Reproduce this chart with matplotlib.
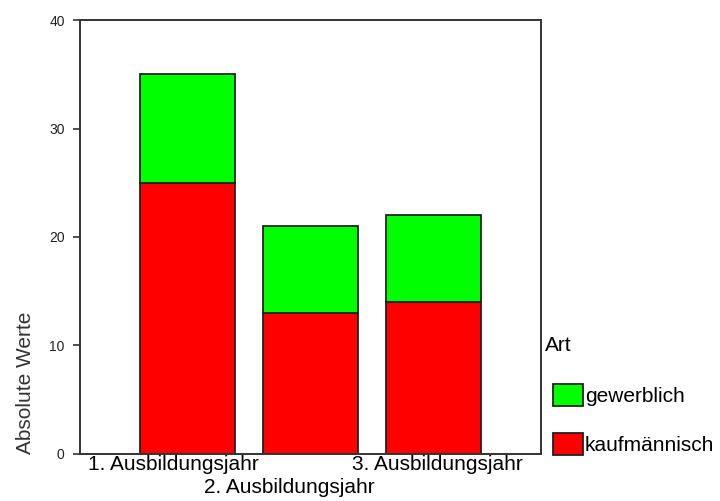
import numpy as np
import matplotlib.pyplot as plt
from matplotlib.transforms import ScaledTranslation

plt.rcParams["font.family"] = ["Liberation Sans", "DejaVu Sans"]

# ── Data ──────────────────────────────────────────────────────────────────────
years = ["1. Ausbildungsjahr", "2. Ausbildungsjahr", "3. Ausbildungsjahr"]
kaufmaennisch = [25, 13, 14]
gewerblich = [10, 8, 8]

RED = "#FF0000"
GREEN = "#00FF00"
EDGE = "#222222"


def main():
    fig = plt.figure(figsize=(7.2, 5.01), dpi=100)
    ax = fig.add_axes([0.111, 0.094, 0.640, 0.866])

    x = np.arange(len(years))
    width = 0.77
    b1 = ax.bar(x, kaufmaennisch, width, color=RED, edgecolor=EDGE, linewidth=1.3)
    b2 = ax.bar(x, gewerblich, width, bottom=kaufmaennisch, color=GREEN,
                edgecolor=EDGE, linewidth=1.3)

    ax.set_xlim(-0.874, 2.874)
    ax.set_ylim(0, 40)
    ax.set_yticks([0, 10, 20, 30, 40])
    ax.tick_params(axis="y", labelsize=10, length=5, width=1.2, color="#333333",
                   pad=6, labelcolor="#222222")

    # Staggered category labels (middle one sits a row lower)
    ax.set_xticks(x)
    ax.set_xticklabels(years, fontsize=15)
    ax.tick_params(axis="x", length=0, pad=1)
    shifts = [-14, -21, 4]  # px
    for lbl, dx in zip(ax.get_xticklabels(), shifts):
        lbl.set_transform(lbl.get_transform()
                          + ScaledTranslation(dx / 100, 0, fig.dpi_scale_trans))
    ax.get_xticklabels()[1].set_y(-0.052)

    for spine in ax.spines.values():
        spine.set_color("#333333")
        spine.set_linewidth(1.4)

    ax.set_ylabel("Absolute Werte", fontsize=15, color="#333333")
    ax.yaxis.set_label_coords(-0.097, 0.164)

    fig.text(0.757, 0.311, "Art", fontsize=15, va="center", ha="left")
    ax.legend([b2, b1], ["gewerblich", "kaufmännisch"],
              loc="upper left", bbox_to_anchor=(1.026, 0.160),
              frameon=False, fontsize=15,
              handlelength=1.45, handleheight=1.2, handletextpad=0.1,
              labelspacing=1.3, borderaxespad=0.0, borderpad=0.0)

    fig.savefig("out.png", dpi=100, facecolor="white")


if __name__ == "__main__":
    main()
